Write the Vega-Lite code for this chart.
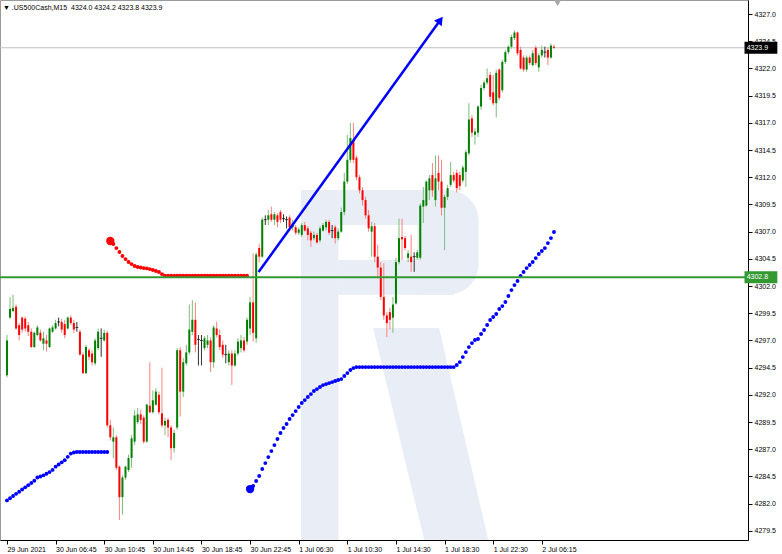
{
  "$schema": "https://vega.github.io/schema/vega-lite/v6.json",
  "width": 748,
  "height": 540,
  "autosize": {"type": "none"},
  "padding": {"left": 0, "top": 0, "right": 34, "bottom": 14},
  "background": "white",
  "resolve": {"axis": {"y": "independent"}},
  "config": {
    "view": {"stroke": "#9a9a9a", "strokeWidth": 1},
    "font": "Liberation Sans",
    "axis": {"title": null, "grid": false, "labelOverlap": false, "labelFlush": false, "labelBound": false,
      "labelFont": "Liberation Sans", "labelFontSize": 7, "labelColor": "#000000", "tickColor": "#000000", "tickSize": 4,
      "domainColor": "#000000", "domainWidth": 1},
    "axisX": {"labelAlign": "left", "labelBaseline": "top", "labelPadding": 1, "labelOffset": 0},
    "axisY": {"labelAlign": "left", "labelBaseline": "middle", "labelPadding": 2}
  },
  "title": {"text": "▼ .US500Cash,M15\u00a0 4324.0 4324.2 4323.8 4323.9", "anchor": "start", "frame": "group", "offset": -11, "dx": 3, "font": "Liberation Sans", "fontSize": 7, "fontWeight": "normal", "color": "#000000"},
  "datasets": {
    "candles": [
      {"i":0,"o":4293.8,"h":4297.5,"l":4293.6,"c":4297.0},
      {"i":1,"o":4299.1,"h":4301.0,"l":4299.0,"c":4299.9},
      {"i":2,"o":4299.7,"h":4301.2,"l":4299.6,"c":4300.0},
      {"i":3,"o":4300.1,"h":4300.3,"l":4298.0,"c":4298.1},
      {"i":4,"o":4298.4,"h":4298.6,"l":4297.0,"c":4297.5},
      {"i":5,"o":4299.1,"h":4299.2,"l":4297.7,"c":4298.0},
      {"i":6,"o":4299.0,"h":4299.2,"l":4297.8,"c":4298.1},
      {"i":7,"o":4298.4,"h":4298.7,"l":4297.4,"c":4297.8},
      {"i":8,"o":4297.8,"h":4298.1,"l":4296.3,"c":4296.4},
      {"i":9,"o":4296.4,"h":4297.8,"l":4296.3,"c":4297.7},
      {"i":10,"o":4297.5,"h":4298.4,"l":4297.4,"c":4298.2},
      {"i":11,"o":4297.7,"h":4298.0,"l":4296.9,"c":4297.0},
      {"i":12,"o":4296.7,"h":4297.8,"l":4296.1,"c":4297.2},
      {"i":13,"o":4297.0,"h":4297.5,"l":4296.0,"c":4296.7},
      {"i":14,"o":4296.4,"h":4298.2,"l":4296.3,"c":4298.1},
      {"i":15,"o":4297.8,"h":4298.4,"l":4297.7,"c":4298.2},
      {"i":16,"o":4298.1,"h":4298.9,"l":4298.0,"c":4298.6},
      {"i":17,"o":4298.7,"h":4299.1,"l":4298.3,"c":4298.7},
      {"i":18,"o":4298.7,"h":4299.0,"l":4297.7,"c":4298.0},
      {"i":19,"o":4298.5,"h":4298.9,"l":4297.2,"c":4297.5},
      {"i":20,"o":4298.1,"h":4299.2,"l":4298.0,"c":4299.1},
      {"i":21,"o":4299.1,"h":4299.3,"l":4298.4,"c":4298.6},
      {"i":22,"o":4298.6,"h":4298.9,"l":4297.7,"c":4298.0},
      {"i":23,"o":4298.2,"h":4298.7,"l":4297.8,"c":4298.2},
      {"i":24,"o":4297.8,"h":4298.0,"l":4295.6,"c":4295.7},
      {"i":25,"o":4295.7,"h":4295.9,"l":4293.9,"c":4294.0},
      {"i":26,"o":4294.0,"h":4296.6,"l":4293.9,"c":4296.4},
      {"i":27,"o":4296.1,"h":4296.3,"l":4295.2,"c":4295.5},
      {"i":28,"o":4295.8,"h":4296.1,"l":4294.7,"c":4295.0},
      {"i":29,"o":4294.9,"h":4297.2,"l":4294.7,"c":4297.0},
      {"i":30,"o":4296.3,"h":4298.1,"l":4296.1,"c":4297.8},
      {"i":31,"o":4297.2,"h":4298.1,"l":4295.5,"c":4297.2},
      {"i":32,"o":4297.0,"h":4298.0,"l":4296.9,"c":4297.7},
      {"i":33,"o":4297.7,"h":4297.9,"l":4289.0,"c":4289.2},
      {"i":34,"o":4289.2,"h":4289.7,"l":4287.8,"c":4288.1},
      {"i":35,"o":4287.7,"h":4289.0,"l":4286.2,"c":4288.1},
      {"i":36,"o":4288.1,"h":4288.3,"l":4285.1,"c":4285.3},
      {"i":37,"o":4285.4,"h":4285.5,"l":4280.5,"c":4282.6},
      {"i":38,"o":4282.6,"h":4284.6,"l":4281.0,"c":4284.4},
      {"i":39,"o":4284.4,"h":4285.5,"l":4284.2,"c":4285.4},
      {"i":40,"o":4285.1,"h":4286.5,"l":4284.9,"c":4286.2},
      {"i":41,"o":4286.2,"h":4288.3,"l":4285.3,"c":4288.0},
      {"i":42,"o":4287.7,"h":4290.6,"l":4287.4,"c":4290.1},
      {"i":43,"o":4289.5,"h":4290.8,"l":4289.3,"c":4290.2},
      {"i":44,"o":4290.2,"h":4290.6,"l":4289.3,"c":4289.7},
      {"i":45,"o":4289.9,"h":4290.1,"l":4287.5,"c":4287.7},
      {"i":46,"o":4287.7,"h":4291.2,"l":4287.6,"c":4291.1},
      {"i":47,"o":4291.0,"h":4295.0,"l":4290.3,"c":4290.4},
      {"i":48,"o":4290.4,"h":4292.4,"l":4290.3,"c":4291.5},
      {"i":49,"o":4291.1,"h":4292.6,"l":4291.0,"c":4292.3},
      {"i":50,"o":4292.0,"h":4292.3,"l":4290.2,"c":4290.4},
      {"i":51,"o":4290.3,"h":4294.5,"l":4289.0,"c":4289.2},
      {"i":52,"o":4289.2,"h":4289.9,"l":4288.3,"c":4289.6},
      {"i":53,"o":4289.7,"h":4289.9,"l":4288.1,"c":4289.0},
      {"i":54,"o":4289.0,"h":4289.2,"l":4286.0,"c":4287.1},
      {"i":55,"o":4287.1,"h":4288.8,"l":4286.7,"c":4288.5},
      {"i":56,"o":4289.0,"h":4296.3,"l":4288.8,"c":4296.1},
      {"i":57,"o":4296.1,"h":4296.4,"l":4290.0,"c":4292.3},
      {"i":58,"o":4292.3,"h":4295.4,"l":4291.8,"c":4295.0},
      {"i":59,"o":4294.9,"h":4296.6,"l":4294.7,"c":4295.9},
      {"i":60,"o":4295.9,"h":4300.3,"l":4295.7,"c":4298.0},
      {"i":61,"o":4297.8,"h":4300.7,"l":4297.5,"c":4298.9},
      {"i":62,"o":4298.9,"h":4300.5,"l":4295.9,"c":4296.6},
      {"i":63,"o":4297.1,"h":4297.5,"l":4294.7,"c":4297.1},
      {"i":64,"o":4297.0,"h":4297.5,"l":4294.7,"c":4297.0},
      {"i":65,"o":4296.3,"h":4297.4,"l":4296.1,"c":4297.2},
      {"i":66,"o":4296.6,"h":4297.5,"l":4296.3,"c":4297.0},
      {"i":67,"o":4297.0,"h":4297.3,"l":4294.1,"c":4295.0},
      {"i":68,"o":4295.0,"h":4298.4,"l":4294.5,"c":4298.2},
      {"i":69,"o":4298.1,"h":4298.7,"l":4297.3,"c":4297.5},
      {"i":70,"o":4297.5,"h":4298.0,"l":4296.1,"c":4296.4},
      {"i":71,"o":4296.6,"h":4297.0,"l":4295.4,"c":4295.7},
      {"i":72,"o":4295.7,"h":4296.6,"l":4294.9,"c":4295.7},
      {"i":73,"o":4295.0,"h":4296.1,"l":4294.7,"c":4295.8},
      {"i":74,"o":4295.8,"h":4296.1,"l":4292.9,"c":4294.7},
      {"i":75,"o":4294.7,"h":4296.1,"l":4294.6,"c":4295.8},
      {"i":76,"o":4295.8,"h":4297.2,"l":4295.6,"c":4296.9},
      {"i":77,"o":4296.3,"h":4297.5,"l":4295.9,"c":4297.0},
      {"i":78,"o":4297.0,"h":4297.3,"l":4295.9,"c":4296.1},
      {"i":79,"o":4296.9,"h":4299.1,"l":4296.6,"c":4298.9},
      {"i":80,"o":4298.1,"h":4301.0,"l":4297.5,"c":4300.5},
      {"i":81,"o":4300.5,"h":4305.0,"l":4296.9,"c":4297.7},
      {"i":82,"o":4297.2,"h":4305.1,"l":4296.8,"c":4304.9},
      {"i":83,"o":4305.5,"h":4305.9,"l":4304.2,"c":4304.7},
      {"i":84,"o":4304.7,"h":4308.3,"l":4304.6,"c":4308.1},
      {"i":85,"o":4308.1,"h":4308.5,"l":4307.6,"c":4308.1},
      {"i":86,"o":4308.1,"h":4309.0,"l":4307.6,"c":4308.5},
      {"i":87,"o":4308.6,"h":4309.3,"l":4307.9,"c":4308.1},
      {"i":88,"o":4308.1,"h":4308.8,"l":4307.6,"c":4308.6},
      {"i":89,"o":4308.5,"h":4308.7,"l":4307.4,"c":4307.9},
      {"i":90,"o":4308.8,"h":4309.0,"l":4307.8,"c":4308.1},
      {"i":91,"o":4308.2,"h":4308.6,"l":4307.9,"c":4308.2},
      {"i":92,"o":4308.1,"h":4308.4,"l":4307.3,"c":4308.1},
      {"i":93,"o":4308.3,"h":4308.5,"l":4307.1,"c":4307.4},
      {"i":94,"o":4307.4,"h":4308.1,"l":4307.1,"c":4307.8},
      {"i":95,"o":4307.4,"h":4307.6,"l":4306.7,"c":4306.9},
      {"i":96,"o":4306.9,"h":4307.4,"l":4306.7,"c":4307.2},
      {"i":97,"o":4306.7,"h":4307.8,"l":4306.5,"c":4307.6},
      {"i":98,"o":4307.6,"h":4307.9,"l":4307.0,"c":4307.1},
      {"i":99,"o":4307.3,"h":4307.5,"l":4306.2,"c":4306.7},
      {"i":100,"o":4306.9,"h":4307.1,"l":4305.6,"c":4306.2},
      {"i":101,"o":4306.4,"h":4307.0,"l":4306.2,"c":4306.7},
      {"i":102,"o":4306.7,"h":4306.9,"l":4305.9,"c":4306.0},
      {"i":103,"o":4306.2,"h":4307.5,"l":4306.0,"c":4307.3},
      {"i":104,"o":4307.1,"h":4307.8,"l":4307.0,"c":4307.6},
      {"i":105,"o":4307.4,"h":4308.1,"l":4307.1,"c":4307.9},
      {"i":106,"o":4307.9,"h":4308.1,"l":4306.7,"c":4306.9},
      {"i":107,"o":4307.1,"h":4307.6,"l":4306.4,"c":4307.1},
      {"i":108,"o":4307.4,"h":4307.6,"l":4305.9,"c":4306.4},
      {"i":109,"o":4306.4,"h":4307.3,"l":4306.2,"c":4307.0},
      {"i":110,"o":4307.0,"h":4309.2,"l":4306.9,"c":4308.8},
      {"i":111,"o":4308.8,"h":4312.4,"l":4308.5,"c":4311.6},
      {"i":112,"o":4311.6,"h":4315.9,"l":4311.4,"c":4313.6},
      {"i":113,"o":4313.6,"h":4317.0,"l":4313.3,"c":4315.6},
      {"i":114,"o":4315.4,"h":4317.0,"l":4313.3,"c":4313.6},
      {"i":115,"o":4313.8,"h":4314.0,"l":4311.7,"c":4312.0},
      {"i":116,"o":4312.0,"h":4312.2,"l":4310.5,"c":4310.8},
      {"i":117,"o":4310.8,"h":4311.1,"l":4309.4,"c":4309.9},
      {"i":118,"o":4309.9,"h":4310.2,"l":4308.2,"c":4308.5},
      {"i":119,"o":4308.5,"h":4309.0,"l":4307.0,"c":4307.3},
      {"i":120,"o":4307.0,"h":4307.9,"l":4304.7,"c":4307.5},
      {"i":121,"o":4307.5,"h":4307.8,"l":4304.2,"c":4304.7},
      {"i":122,"o":4304.7,"h":4305.8,"l":4302.7,"c":4303.7},
      {"i":123,"o":4303.7,"h":4304.2,"l":4300.7,"c":4301.0},
      {"i":124,"o":4301.0,"h":4304.1,"l":4298.9,"c":4299.3},
      {"i":125,"o":4299.3,"h":4299.6,"l":4297.3,"c":4298.6},
      {"i":126,"o":4299.6,"h":4300.0,"l":4298.0,"c":4298.9},
      {"i":127,"o":4299.1,"h":4301.0,"l":4297.7,"c":4300.3},
      {"i":128,"o":4300.4,"h":4304.6,"l":4300.3,"c":4304.2},
      {"i":129,"o":4304.2,"h":4308.2,"l":4304.0,"c":4306.4},
      {"i":130,"o":4306.5,"h":4308.2,"l":4304.4,"c":4306.3},
      {"i":131,"o":4306.4,"h":4306.6,"l":4305.3,"c":4305.5},
      {"i":132,"o":4304.6,"h":4305.3,"l":4304.2,"c":4305.0},
      {"i":133,"o":4304.7,"h":4306.7,"l":4303.3,"c":4304.2},
      {"i":134,"o":4304.7,"h":4305.1,"l":4303.3,"c":4304.7},
      {"i":135,"o":4304.6,"h":4305.3,"l":4304.4,"c":4305.1},
      {"i":136,"o":4304.6,"h":4309.6,"l":4304.4,"c":4309.4},
      {"i":137,"o":4309.3,"h":4311.1,"l":4307.8,"c":4309.9},
      {"i":138,"o":4309.4,"h":4311.7,"l":4309.3,"c":4311.6},
      {"i":139,"o":4310.8,"h":4312.2,"l":4309.9,"c":4311.9},
      {"i":140,"o":4312.2,"h":4313.3,"l":4310.2,"c":4310.8},
      {"i":141,"o":4309.9,"h":4314.0,"l":4309.3,"c":4311.9},
      {"i":142,"o":4312.4,"h":4314.0,"l":4310.8,"c":4311.6},
      {"i":143,"o":4311.6,"h":4313.6,"l":4308.5,"c":4309.2},
      {"i":144,"o":4309.2,"h":4310.4,"l":4305.3,"c":4310.2},
      {"i":145,"o":4310.2,"h":4311.3,"l":4309.9,"c":4311.0},
      {"i":146,"o":4311.3,"h":4313.4,"l":4311.1,"c":4312.2},
      {"i":147,"o":4312.2,"h":4312.5,"l":4311.5,"c":4311.7},
      {"i":148,"o":4312.4,"h":4312.7,"l":4310.6,"c":4311.0},
      {"i":149,"o":4312.2,"h":4312.5,"l":4310.8,"c":4311.2},
      {"i":150,"o":4311.7,"h":4313.1,"l":4311.5,"c":4312.9},
      {"i":151,"o":4312.5,"h":4314.5,"l":4311.1,"c":4314.3},
      {"i":152,"o":4314.2,"h":4318.8,"l":4314.0,"c":4317.3},
      {"i":153,"o":4317.4,"h":4317.7,"l":4315.7,"c":4316.1},
      {"i":154,"o":4315.9,"h":4316.5,"l":4315.0,"c":4316.2},
      {"i":155,"o":4316.1,"h":4318.6,"l":4315.7,"c":4318.5},
      {"i":156,"o":4318.5,"h":4320.5,"l":4318.2,"c":4320.2},
      {"i":157,"o":4320.2,"h":4320.9,"l":4320.0,"c":4320.7},
      {"i":158,"o":4320.7,"h":4322.0,"l":4320.5,"c":4321.1},
      {"i":159,"o":4321.4,"h":4321.7,"l":4319.1,"c":4319.4},
      {"i":160,"o":4319.8,"h":4321.4,"l":4318.6,"c":4318.8},
      {"i":161,"o":4318.8,"h":4321.9,"l":4317.5,"c":4321.6},
      {"i":162,"o":4321.9,"h":4322.0,"l":4319.1,"c":4319.3},
      {"i":163,"o":4320.0,"h":4322.8,"l":4319.8,"c":4322.6},
      {"i":164,"o":4322.6,"h":4323.7,"l":4322.4,"c":4323.5},
      {"i":165,"o":4323.5,"h":4324.1,"l":4323.3,"c":4324.0},
      {"i":166,"o":4324.0,"h":4325.1,"l":4323.8,"c":4324.9},
      {"i":167,"o":4324.8,"h":4325.5,"l":4324.6,"c":4325.3},
      {"i":168,"o":4325.3,"h":4325.4,"l":4323.2,"c":4323.4},
      {"i":169,"o":4323.7,"h":4324.0,"l":4321.9,"c":4322.0},
      {"i":170,"o":4323.0,"h":4323.2,"l":4321.7,"c":4321.9},
      {"i":171,"o":4321.9,"h":4323.2,"l":4321.7,"c":4323.0},
      {"i":172,"o":4323.0,"h":4323.2,"l":4322.3,"c":4322.5},
      {"i":173,"o":4322.3,"h":4323.7,"l":4322.2,"c":4323.4},
      {"i":174,"o":4323.9,"h":4324.1,"l":4322.3,"c":4322.5},
      {"i":175,"o":4322.1,"h":4323.4,"l":4321.7,"c":4323.2},
      {"i":176,"o":4323.2,"h":4324.1,"l":4323.0,"c":4323.7},
      {"i":177,"o":4323.5,"h":4324.0,"l":4323.0,"c":4323.5},
      {"i":178,"o":4323.7,"h":4323.9,"l":4322.3,"c":4323.0},
      {"i":179,"o":4323.0,"h":4324.3,"l":4322.9,"c":4324.1},
      {"i":180,"o":4324.0,"h":4324.2,"l":4323.8,"c":4323.9}
    ],
    "sar": [
      {"i":0,"p":4282.3,"t":"buy"},{"i":1,"p":4282.5,"t":"buy"},{"i":2,"p":4282.7,"t":"buy"},{"i":3,"p":4282.9,"t":"buy"},
      {"i":4,"p":4283.1,"t":"buy"},{"i":5,"p":4283.3,"t":"buy"},{"i":6,"p":4283.5,"t":"buy"},{"i":7,"p":4283.7,"t":"buy"},
      {"i":8,"p":4283.9,"t":"buy"},{"i":9,"p":4284.1,"t":"buy"},{"i":10,"p":4284.4,"t":"buy"},{"i":11,"p":4284.5,"t":"buy"},
      {"i":12,"p":4284.6,"t":"buy"},{"i":13,"p":4284.75,"t":"buy"},{"i":14,"p":4284.9,"t":"buy"},{"i":15,"p":4285.1,"t":"buy"},
      {"i":16,"p":4285.4,"t":"buy"},{"i":17,"p":4285.6,"t":"buy"},{"i":18,"p":4285.8,"t":"buy"},{"i":19,"p":4286.0,"t":"buy"},
      {"i":20,"p":4286.3,"t":"buy"},{"i":21,"p":4286.6,"t":"buy"},{"i":22,"p":4286.7,"t":"buy"},{"i":23,"p":4286.75,"t":"buy"},
      {"i":24,"p":4286.75,"t":"buy"},{"i":25,"p":4286.75,"t":"buy"},{"i":26,"p":4286.75,"t":"buy"},{"i":27,"p":4286.75,"t":"buy"},
      {"i":28,"p":4286.75,"t":"buy"},{"i":29,"p":4286.75,"t":"buy"},{"i":30,"p":4286.75,"t":"buy"},{"i":31,"p":4286.75,"t":"buy"},
      {"i":32,"p":4286.75,"t":"buy"},{"i":33,"p":4286.75,"t":"buy"},
      {"i":34,"p":4306.14,"t":"sell"},{"i":35,"p":4305.86,"t":"sell"},{"i":36,"p":4305.49,"t":"sell"},{"i":37,"p":4305.13,"t":"sell"},
      {"i":38,"p":4304.76,"t":"sell"},{"i":39,"p":4304.48,"t":"sell"},{"i":40,"p":4304.21,"t":"sell"},{"i":41,"p":4304.02,"t":"sell"},
      {"i":42,"p":4303.84,"t":"sell"},{"i":43,"p":4303.75,"t":"sell"},{"i":44,"p":4303.7,"t":"sell"},{"i":45,"p":4303.65,"t":"sell"},
      {"i":46,"p":4303.62,"t":"sell"},{"i":47,"p":4303.56,"t":"sell"},{"i":48,"p":4303.47,"t":"sell"},{"i":49,"p":4303.38,"t":"sell"},
      {"i":50,"p":4303.29,"t":"sell"},{"i":51,"p":4303.1,"t":"sell"},{"i":52,"p":4302.95,"t":"sell"},{"i":53,"p":4302.95,"t":"sell"},
      {"i":54,"p":4302.95,"t":"sell"},{"i":55,"p":4302.95,"t":"sell"},{"i":56,"p":4302.95,"t":"sell"},{"i":57,"p":4302.95,"t":"sell"},
      {"i":58,"p":4302.95,"t":"sell"},{"i":59,"p":4302.95,"t":"sell"},{"i":60,"p":4302.95,"t":"sell"},{"i":61,"p":4302.95,"t":"sell"},
      {"i":62,"p":4302.95,"t":"sell"},{"i":63,"p":4302.95,"t":"sell"},{"i":64,"p":4302.95,"t":"sell"},{"i":65,"p":4302.95,"t":"sell"},
      {"i":66,"p":4302.95,"t":"sell"},{"i":67,"p":4302.95,"t":"sell"},{"i":68,"p":4302.95,"t":"sell"},{"i":69,"p":4302.95,"t":"sell"},
      {"i":70,"p":4302.95,"t":"sell"},{"i":71,"p":4302.95,"t":"sell"},{"i":72,"p":4302.95,"t":"sell"},{"i":73,"p":4302.95,"t":"sell"},
      {"i":74,"p":4302.95,"t":"sell"},{"i":75,"p":4302.95,"t":"sell"},{"i":76,"p":4302.95,"t":"sell"},{"i":77,"p":4302.95,"t":"sell"},
      {"i":78,"p":4302.95,"t":"sell"},{"i":79,"p":4302.95,"t":"sell"},
      {"i":80,"p":4283.34,"t":"buy"},{"i":81,"p":4283.62,"t":"buy"},{"i":82,"p":4284.08,"t":"buy"},{"i":83,"p":4284.54,"t":"buy"},
      {"i":84,"p":4285.18,"t":"buy"},{"i":85,"p":4285.73,"t":"buy"},{"i":86,"p":4286.28,"t":"buy"},{"i":87,"p":4286.83,"t":"buy"},
      {"i":88,"p":4287.38,"t":"buy"},{"i":89,"p":4287.94,"t":"buy"},{"i":90,"p":4288.49,"t":"buy"},{"i":91,"p":4288.95,"t":"buy"},
      {"i":92,"p":4289.32,"t":"buy"},{"i":93,"p":4289.78,"t":"buy"},{"i":94,"p":4290.14,"t":"buy"},{"i":95,"p":4290.51,"t":"buy"},
      {"i":96,"p":4290.88,"t":"buy"},{"i":97,"p":4291.25,"t":"buy"},{"i":98,"p":4291.52,"t":"buy"},{"i":99,"p":4291.8,"t":"buy"},
      {"i":100,"p":4292.07,"t":"buy"},{"i":101,"p":4292.35,"t":"buy"},{"i":102,"p":4292.53,"t":"buy"},{"i":103,"p":4292.72,"t":"buy"},
      {"i":104,"p":4292.9,"t":"buy"},{"i":105,"p":4292.99,"t":"buy"},{"i":106,"p":4293.08,"t":"buy"},{"i":107,"p":4293.17,"t":"buy"},
      {"i":108,"p":4293.27,"t":"buy"},{"i":109,"p":4293.36,"t":"buy"},{"i":110,"p":4293.45,"t":"buy"},{"i":111,"p":4293.73,"t":"buy"},
      {"i":112,"p":4294.0,"t":"buy"},{"i":113,"p":4294.28,"t":"buy"},{"i":114,"p":4294.46,"t":"buy"},{"i":115,"p":4294.55,"t":"buy"},
      {"i":116,"p":4294.55,"t":"buy"},{"i":117,"p":4294.55,"t":"buy"},{"i":118,"p":4294.55,"t":"buy"},{"i":119,"p":4294.55,"t":"buy"},
      {"i":120,"p":4294.55,"t":"buy"},{"i":121,"p":4294.55,"t":"buy"},{"i":122,"p":4294.55,"t":"buy"},{"i":123,"p":4294.55,"t":"buy"},
      {"i":124,"p":4294.55,"t":"buy"},{"i":125,"p":4294.55,"t":"buy"},{"i":126,"p":4294.55,"t":"buy"},{"i":127,"p":4294.55,"t":"buy"},
      {"i":128,"p":4294.55,"t":"buy"},{"i":129,"p":4294.55,"t":"buy"},{"i":130,"p":4294.55,"t":"buy"},{"i":131,"p":4294.55,"t":"buy"},
      {"i":132,"p":4294.55,"t":"buy"},{"i":133,"p":4294.55,"t":"buy"},{"i":134,"p":4294.55,"t":"buy"},{"i":135,"p":4294.55,"t":"buy"},
      {"i":136,"p":4294.55,"t":"buy"},{"i":137,"p":4294.55,"t":"buy"},{"i":138,"p":4294.55,"t":"buy"},{"i":139,"p":4294.55,"t":"buy"},
      {"i":140,"p":4294.55,"t":"buy"},{"i":141,"p":4294.55,"t":"buy"},{"i":142,"p":4294.55,"t":"buy"},{"i":143,"p":4294.55,"t":"buy"},
      {"i":144,"p":4294.55,"t":"buy"},{"i":145,"p":4294.55,"t":"buy"},{"i":146,"p":4294.55,"t":"buy"},{"i":147,"p":4294.55,"t":"buy"},
      {"i":148,"p":4294.74,"t":"buy"},{"i":149,"p":4295.01,"t":"buy"},{"i":150,"p":4295.47,"t":"buy"},{"i":151,"p":4295.93,"t":"buy"},
      {"i":152,"p":4296.39,"t":"buy"},{"i":153,"p":4296.76,"t":"buy"},{"i":154,"p":4297.04,"t":"buy"},{"i":155,"p":4297.13,"t":"buy"},
      {"i":156,"p":4297.59,"t":"buy"},{"i":157,"p":4297.96,"t":"buy"},{"i":158,"p":4298.42,"t":"buy"},{"i":159,"p":4298.88,"t":"buy"},
      {"i":160,"p":4299.15,"t":"buy"},{"i":161,"p":4299.43,"t":"buy"},{"i":162,"p":4299.89,"t":"buy"},{"i":163,"p":4300.16,"t":"buy"},
      {"i":164,"p":4300.53,"t":"buy"},{"i":165,"p":4301.08,"t":"buy"},{"i":166,"p":4301.63,"t":"buy"},{"i":167,"p":4302.09,"t":"buy"},
      {"i":168,"p":4302.46,"t":"buy"},{"i":169,"p":4302.92,"t":"buy"},{"i":170,"p":4303.29,"t":"buy"},{"i":171,"p":4303.65,"t":"buy"},
      {"i":172,"p":4303.93,"t":"buy"},{"i":173,"p":4304.21,"t":"buy"},{"i":174,"p":4304.57,"t":"buy"},{"i":175,"p":4304.94,"t":"buy"},
      {"i":176,"p":4305.22,"t":"buy"},{"i":177,"p":4305.49,"t":"buy"},{"i":178,"p":4305.95,"t":"buy"},{"i":179,"p":4306.41,"t":"buy"},
      {"i":180,"p":4306.97,"t":"buy"}
    ],
    "arrow": [
      {"i":82.8,"p":4303.29},
      {"i":142.6,"p":4326.45}
    ]
  },
  "layer": [
    {
      "data": {"name": "candles"},
      "mark": {"type": "rule", "strokeWidth": 1, "opacity": 0},
      "encoding": {
        "x": {"field": "i", "type": "quantitative", "scale": {"domain": [-0.65, 242.2], "nice": false, "zero": false},
          "axis": {"orient": "bottom", "values": [0,16,32,48,64,80,96,112,128,144,160,176], "labelOverlap": false,
            "labelExpr": "['29 Jun 2021','30 Jun 06:45','30 Jun 10:45','30 Jun 14:45','30 Jun 18:45','30 Jun 22:45','1 Jul 06:30','1 Jul 10:30','1 Jul 14:30','1 Jul 18:30','1 Jul 22:30','2 Jul 06:15'][round(datum.value/16)]"}},
        "y": {"field": "l", "type": "quantitative", "scale": {"domain": [4278.66, 4328.29], "nice": false, "zero": false},
          "axis": {"orient": "right", "offset": 0, "labelOverlap": false,
            "values": [4279.5,4284.5,4289.5,4294.5,4299.5,4304.5,4309.5,4314.5,4319.5,4324.5], "format": ".1f"}},
        "y2": {"field": "h"}
      }
    },
    {
      "data": {"name": "candles"},
      "mark": {"type": "rule", "strokeWidth": 1, "opacity": 0},
      "encoding": {
        "x": {"field": "i", "type": "quantitative", "scale": {"domain": [-0.65, 242.2], "nice": false, "zero": false}},
        "y": {"field": "l", "type": "quantitative", "scale": {"domain": [4278.66, 4328.29], "nice": false, "zero": false},
          "axis": {"orient": "right", "offset": 0, "labelOverlap": false, "domain": false,
            "values": [4282,4287,4292,4297,4302,4307,4312,4317,4322,4327], "format": ".1f"}},
        "y2": {"field": "h"}
      }
    },
    {
      "data": {"values": [{}]},
      "mark": {"type": "rect", "color": "#e9eef6"},
      "encoding": {
        "x": {"datum": 96.75, "type": "quantitative", "scale": {"domain": [-0.65, 242.2], "nice": false, "zero": false}},
        "x2": {"datum": 109.1},
        "y": {"datum": 4278.66, "type": "quantitative", "scale": {"domain": [4278.66, 4328.29], "nice": false, "zero": false}, "axis": null},
        "y2": {"datum": 4310.83}
      }
    },
    {
      "data": {"values": [{}]},
      "mark": {"type": "rect", "color": "#e9eef6"},
      "encoding": {
        "x": {"datum": 109.0, "type": "quantitative", "scale": {"domain": [-0.65, 242.2], "nice": false, "zero": false}},
        "x2": {"datum": 147.1},
        "y": {"datum": 4307.61, "type": "quantitative", "scale": {"domain": [4278.66, 4328.29], "nice": false, "zero": false}, "axis": null},
        "y2": {"datum": 4310.83}
      }
    },
    {
      "data": {"values": [{}]},
      "mark": {"type": "rect", "color": "#e9eef6"},
      "encoding": {
        "x": {"datum": 109.0, "type": "quantitative", "scale": {"domain": [-0.65, 242.2], "nice": false, "zero": false}},
        "x2": {"datum": 147.1},
        "y": {"datum": 4301.2, "type": "quantitative", "scale": {"domain": [4278.66, 4328.29], "nice": false, "zero": false}, "axis": null},
        "y2": {"datum": 4304.39}
      }
    },
    {
      "data": {"values": [{}]},
      "mark": {"type": "rect", "color": "#e9eef6", "cornerRadiusTopRight": 36, "cornerRadiusBottomRight": 36},
      "encoding": {
        "x": {"datum": 135.0, "type": "quantitative", "scale": {"domain": [-0.65, 242.2], "nice": false, "zero": false}},
        "x2": {"datum": 155.2},
        "y": {"datum": 4301.2, "type": "quantitative", "scale": {"domain": [4278.66, 4328.29], "nice": false, "zero": false}, "axis": null},
        "y2": {"datum": 4310.83}
      }
    },
    {
      "data": {"values": [{"p": 4298.14, "a": 120.45, "b": 142.2}, {"p": 4278.66, "a": 137.3, "b": 158.4}]},
      "mark": {"type": "area", "orient": "horizontal", "color": "#e9eef6", "opacity": 1},
      "encoding": {
        "y": {"field": "p", "type": "quantitative", "scale": {"domain": [4278.66, 4328.29], "nice": false, "zero": false}, "axis": null},
        "x": {"field": "a", "type": "quantitative", "scale": {"domain": [-0.65, 242.2], "nice": false, "zero": false}},
        "x2": {"field": "b"}
      }
    },
    {
      "data": {"values": [{}]},
      "mark": {"type": "rule", "color": "#c0c0c0", "strokeWidth": 1},
      "encoding": {
        "y": {"datum": 4323.9, "type": "quantitative", "scale": {"domain": [4278.66, 4328.29], "nice": false, "zero": false}, "axis": null}
      }
    },
    {
      "data": {"name": "candles"},
      "mark": {"type": "rule", "strokeWidth": 1},
      "encoding": {
        "x": {"field": "i", "type": "quantitative", "scale": {"domain": [-0.65, 242.2], "nice": false, "zero": false}},
        "y": {"field": "l", "type": "quantitative", "scale": {"domain": [4278.66, 4328.29], "nice": false, "zero": false}, "axis": null},
        "y2": {"field": "h"},
        "color": {"condition": [{"test": "datum.c > datum.o", "value": "#7cbd7c"}, {"test": "datum.c < datum.o", "value": "#ff8080"}], "value": "#303030"}
      }
    },
    {
      "data": {"name": "candles"},
      "mark": {"type": "bar", "size": 2},
      "encoding": {
        "x": {"field": "i", "type": "quantitative", "scale": {"domain": [-0.65, 242.2], "nice": false, "zero": false}},
        "y": {"field": "o", "type": "quantitative", "scale": {"domain": [4278.66, 4328.29], "nice": false, "zero": false}, "axis": null},
        "y2": {"field": "c"},
        "color": {"condition": [{"test": "datum.c > datum.o", "value": "#008000"}, {"test": "datum.c < datum.o", "value": "#ff0000"}], "value": "#000000"}
      }
    },
    {
      "data": {"name": "candles"},
      "transform": [{"filter": "datum.o == datum.c"}],
      "mark": {"type": "tick", "orient": "horizontal", "size": 3, "thickness": 1, "color": "#000000"},
      "encoding": {
        "x": {"field": "i", "type": "quantitative", "scale": {"domain": [-0.65, 242.2], "nice": false, "zero": false}},
        "y": {"field": "o", "type": "quantitative", "scale": {"domain": [4278.66, 4328.29], "nice": false, "zero": false}, "axis": null}
      }
    },
    {
      "data": {"name": "sar"},
      "mark": {"type": "circle", "size": 15, "opacity": 1},
      "encoding": {
        "x": {"field": "i", "type": "quantitative", "scale": {"domain": [-0.65, 242.2], "nice": false, "zero": false}},
        "y": {"field": "p", "type": "quantitative", "scale": {"domain": [4278.66, 4328.29], "nice": false, "zero": false}, "axis": null},
        "color": {"field": "t", "type": "nominal", "scale": {"domain": ["buy", "sell"], "range": ["#0000ff", "#ff0000"]}, "legend": null}
      }
    },
    {
      "data": {"name": "sar"},
      "transform": [{"filter": "datum.i == 34 || datum.i == 80"}],
      "mark": {"type": "circle", "size": 70, "opacity": 1},
      "encoding": {
        "x": {"field": "i", "type": "quantitative", "scale": {"domain": [-0.65, 242.2], "nice": false, "zero": false}},
        "y": {"field": "p", "type": "quantitative", "scale": {"domain": [4278.66, 4328.29], "nice": false, "zero": false}, "axis": null},
        "color": {"field": "t", "type": "nominal", "scale": {"domain": ["buy", "sell"], "range": ["#0000ff", "#ff0000"]}, "legend": null}
      }
    },
    {
      "data": {"values": [{}]},
      "mark": {"type": "rule", "color": "#339933", "strokeWidth": 2},
      "encoding": {
        "y": {"datum": 4302.8, "type": "quantitative", "scale": {"domain": [4278.66, 4328.29], "nice": false, "zero": false}, "axis": null}
      }
    },
    {
      "data": {"name": "arrow"},
      "mark": {"type": "line", "color": "#0000ff", "strokeWidth": 2.5},
      "encoding": {
        "x": {"field": "i", "type": "quantitative", "scale": {"domain": [-0.65, 242.2], "nice": false, "zero": false}},
        "y": {"field": "p", "type": "quantitative", "scale": {"domain": [4278.66, 4328.29], "nice": false, "zero": false}, "axis": null}
      }
    },
    {
      "data": {"values": [{}]},
      "mark": {"type": "point", "shape": "triangle-up", "filled": true, "color": "#0000ff", "size": 90, "angle": 36, "opacity": 1},
      "encoding": {
        "x": {"datum": 142.6, "type": "quantitative", "scale": {"domain": [-0.65, 242.2], "nice": false, "zero": false}},
        "y": {"datum": 4326.45, "type": "quantitative", "scale": {"domain": [4278.66, 4328.29], "nice": false, "zero": false}, "axis": null}
      }
    },
    {
      "data": {"values": [{}]},
      "mark": {"type": "point", "shape": "triangle-down", "filled": true, "color": "#a8a8a8", "size": 50, "opacity": 1},
      "encoding": {
        "x": {"datum": 181.2, "type": "quantitative", "scale": {"domain": [-0.65, 242.2], "nice": false, "zero": false}},
        "y": {"datum": 4328.0, "type": "quantitative", "scale": {"domain": [4278.66, 4328.29], "nice": false, "zero": false}, "axis": null}
      }
    },
    {
      "data": {"values": [{}]},
      "mark": {"type": "rect", "color": "#000000", "clip": false},
      "encoding": {
        "x": {"datum": 242.7, "type": "quantitative", "scale": {"domain": [-0.65, 242.2], "nice": false, "zero": false}},
        "x2": {"datum": 253.5},
        "y": {"datum": 4323.35, "type": "quantitative", "scale": {"domain": [4278.66, 4328.29], "nice": false, "zero": false}, "axis": null},
        "y2": {"datum": 4324.45}
      }
    },
    {
      "data": {"values": [{}]},
      "mark": {"type": "text", "text": "4323.9", "color": "#ffffff", "font": "Liberation Sans", "fontSize": 7, "align": "left", "baseline": "middle", "clip": false},
      "encoding": {
        "x": {"datum": 243.4, "type": "quantitative", "scale": {"domain": [-0.65, 242.2], "nice": false, "zero": false}},
        "y": {"datum": 4323.9, "type": "quantitative", "scale": {"domain": [4278.66, 4328.29], "nice": false, "zero": false}, "axis": null}
      }
    },
    {
      "data": {"values": [{}]},
      "mark": {"type": "rect", "color": "#339933", "clip": false},
      "encoding": {
        "x": {"datum": 242.7, "type": "quantitative", "scale": {"domain": [-0.65, 242.2], "nice": false, "zero": false}},
        "x2": {"datum": 253.5},
        "y": {"datum": 4302.25, "type": "quantitative", "scale": {"domain": [4278.66, 4328.29], "nice": false, "zero": false}, "axis": null},
        "y2": {"datum": 4303.35}
      }
    },
    {
      "data": {"values": [{}]},
      "mark": {"type": "text", "text": "4302.8", "color": "#ffffff", "font": "Liberation Sans", "fontSize": 7, "align": "left", "baseline": "middle", "clip": false},
      "encoding": {
        "x": {"datum": 243.4, "type": "quantitative", "scale": {"domain": [-0.65, 242.2], "nice": false, "zero": false}},
        "y": {"datum": 4302.8, "type": "quantitative", "scale": {"domain": [4278.66, 4328.29], "nice": false, "zero": false}, "axis": null}
      }
    }
  ]
}
